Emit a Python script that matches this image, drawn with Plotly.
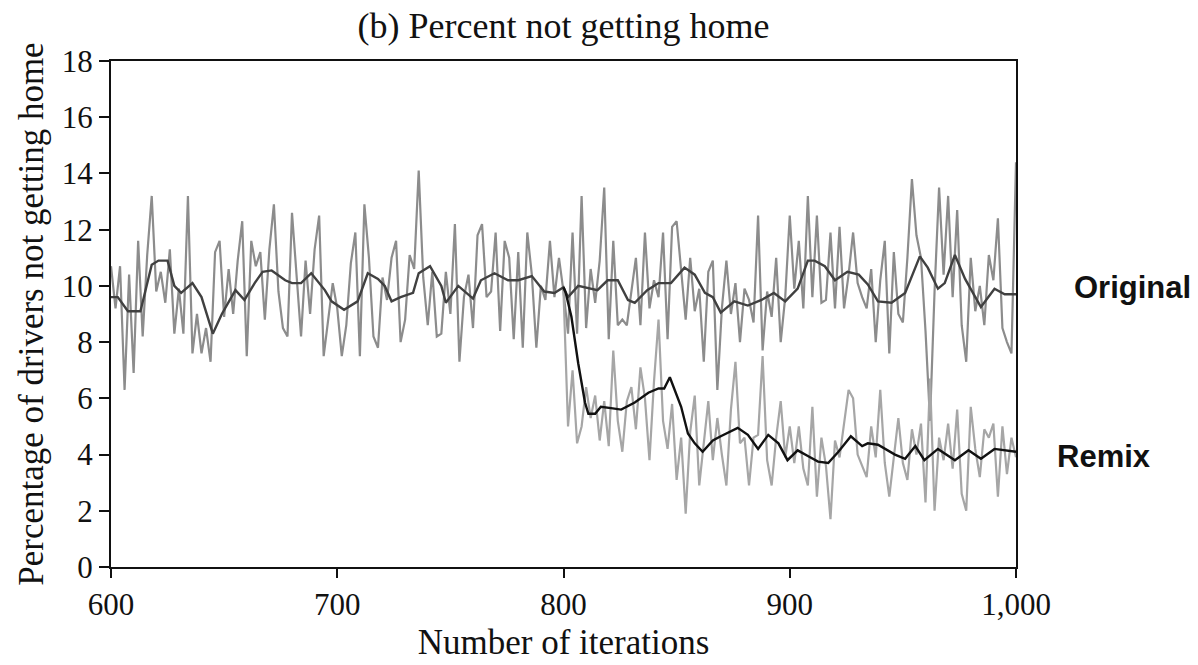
import plotly.graph_objects as go

# ---------------- data ----------------
# Noisy series, one value every 2 iterations
orig_noisy = [
    10.7, 9.2, 10.7, 6.3, 10.4, 6.9, 11.6, 8.2, 11.1, 13.2, 9.8, 10.5, 9.4, 11.3, 8.3, 9.9, 8.3,
    13.2, 7.6, 9.0, 7.6, 8.5, 7.3, 11.2, 11.6, 8.9, 10.6, 9.0, 10.9, 12.3, 7.5, 11.6, 10.7, 11.2,
    8.8, 11.3, 12.9, 9.8, 8.5, 8.2, 12.6, 10.5, 8.2, 10.9, 9.0, 11.3, 12.5, 7.5, 8.8, 10.1, 9.2,
    7.5, 8.6, 10.8, 11.9, 7.5, 12.9, 11.0, 8.2, 7.8, 10.3, 9.5, 11.0, 11.6, 8.0, 8.8, 11.1,
    10.6, 14.1, 10.3, 8.6, 10.5, 8.2, 8.3, 10.5, 9.0, 12.2, 7.3, 9.6, 10.4, 8.5, 11.8, 12.2, 9.6,
    9.8, 11.9, 8.4, 11.6, 11.0, 8.1, 11.2, 7.8, 11.9, 10.4, 7.8, 10.0, 9.5, 11.6, 9.6, 11.0, 9.8,
    8.3, 11.9, 8.3, 13.2, 8.5, 10.6, 9.4, 10.9, 13.5, 8.1, 11.6, 8.6, 8.8, 8.6, 9.9, 11.0, 8.6,
    11.9, 9.2, 10.2, 9.6, 11.9, 8.1, 12.1, 12.3, 10.4, 8.8, 11.0, 9.1, 9.9, 7.3, 10.5, 10.9,
    6.3, 9.2, 10.9, 9.0, 10.1, 8.0, 9.9, 9.5, 8.7, 12.5, 7.7, 9.8, 8.9, 11.0, 8.0, 9.6, 12.5,
    9.9, 11.6, 9.2, 13.2, 9.6, 12.5, 9.4, 9.5, 11.9, 9.2, 12.1, 9.2, 10.4, 11.9, 10.1, 9.6,
    9.2, 10.6, 8.0, 10.2, 11.6, 7.6, 11.2, 9.0, 8.7, 11.0, 13.8, 11.8, 11.0, 8.4, 5.2, 9.8, 13.5,
    10.4, 13.2, 9.6, 12.7, 8.6, 7.3, 11.0, 9.1, 10.0, 8.6, 11.1, 10.2, 12.4, 8.5, 8.0, 7.6, 14.4,
]
orig_noisy_start = 600

remix_noisy = [
    9.8, 5.0, 7.0, 4.4, 5.0, 6.4, 5.3, 6.1, 4.5, 5.9, 4.3, 7.7, 5.2, 4.1, 5.9, 6.4, 4.9, 7.1,
    6.0, 3.8, 6.6, 8.8, 5.2, 4.2, 5.8, 3.1, 4.6, 1.9, 4.8, 6.1, 2.9, 4.4, 5.9, 3.8,
    5.3, 4.0, 2.9, 5.6, 7.3, 4.4, 4.6, 2.9, 4.6, 4.7, 7.5, 3.8, 2.9, 4.6, 5.9, 3.9, 5.0,
    3.7, 5.0, 3.5, 2.9, 5.7, 2.5, 4.6, 3.6, 1.7, 4.5, 3.9, 5.2, 6.3, 6.0, 4.0, 3.6,
    3.2, 5.0, 3.9, 6.3, 3.7, 2.5, 4.0, 5.3, 3.7, 3.1, 4.9, 4.0, 5.1, 2.3, 6.7, 2.0, 4.6,
    3.8, 5.1, 3.5, 5.6, 2.6, 2.0, 5.7, 4.2, 3.2, 4.9, 4.6, 5.1, 2.5, 5.0, 3.3, 4.6, 3.9,
]
remix_noisy_start = 800
noisy_step = 2

# Smoothed (moving-average) curves
orig_smooth_x = [600, 603, 607.5, 613, 618, 621, 625, 628, 631, 636, 640, 645, 649, 655, 659,
                 663.5, 667, 671, 677, 680, 684, 688.5, 694.5, 697.5, 703, 709, 713.5, 718,
                 721, 724, 728, 733.5, 736, 741, 746, 748, 753.5, 760, 763.5, 769.5, 775.5,
                 780, 786, 791.5, 796, 800, 802, 806.5, 815, 819.5, 824, 828.5, 831.5, 837,
                 842, 847.5, 853.5, 858, 862.5, 866, 869.5, 875.5, 881.5, 887.5, 893, 898,
                 903.5, 908, 911, 915.5, 920, 925.5, 930.5, 934.5, 939, 945, 951, 957.5, 961,
                 965.5, 968.5, 973, 977.5, 984.5, 990.5, 995, 1000]
orig_smooth_y = [9.6, 9.6, 9.1, 9.1, 10.75, 10.9, 10.9, 10.0, 9.75, 10.1, 9.6, 8.3, 9.0, 9.85,
                 9.5, 10.1, 10.5, 10.55, 10.2, 10.1, 10.1, 10.45, 9.85, 9.45, 9.15, 9.45, 10.45,
                 10.25, 10.0, 9.45, 9.6, 9.75, 10.45, 10.7, 10.0, 9.4, 10.0, 9.55, 10.2, 10.45,
                 10.2, 10.2, 10.35, 9.8, 9.75, 9.95, 9.6, 10.0, 9.85, 10.2, 10.2, 9.5, 9.4,
                 9.85, 10.1, 10.1, 10.65, 10.4, 9.75, 9.6, 9.05, 9.45, 9.3, 9.5, 9.75, 9.45,
                 9.9, 10.9, 10.9, 10.7, 10.2, 10.5, 10.4, 10.05, 9.45, 9.4, 9.75, 11.05, 10.65,
                 9.9, 10.1, 11.1, 10.25, 9.25, 9.9, 9.7, 9.7]

remix_smooth_x = [800, 801, 803.5, 806.5, 809.5, 811, 814, 816.5, 821, 825.5, 831.5, 837.5,
                  842, 844.5, 847, 849, 852, 855, 858, 861.5, 866, 869.5, 877, 881.5, 886,
                  890.5, 895, 899, 903.5, 908, 912.5, 917, 921.5, 927, 932, 934.5, 939, 946.5,
                  951, 955.5, 959.5, 965.5, 973, 979, 984.5, 990.5, 1000]
remix_smooth_y = [9.95, 9.75, 8.9, 7.25, 5.85, 5.45, 5.45, 5.7, 5.65, 5.6, 5.85, 6.2, 6.35,
                  6.35, 6.75, 6.3, 5.7, 4.75, 4.4, 4.1, 4.5, 4.65, 4.95, 4.7, 4.2, 4.7, 4.4,
                  3.8, 4.15, 3.95, 3.75, 3.7, 4.1, 4.65, 4.3, 4.4, 4.35, 4.0, 3.85, 4.3, 3.8,
                  4.2, 3.8, 4.15, 3.85, 4.2, 4.1]

x_ticks = [600, 700, 800, 900, 1000]
x_tick_labels = ["600", "700", "800", "900", "1,000"]
y_ticks = [0, 2, 4, 6, 8, 10, 12, 14, 16, 18]
series_labels = ["Original", "Remix"]
label_values = [10.0, 4.0]

# ---------------- figure ----------------
orig_x = [orig_noisy_start + noisy_step * i for i in range(len(orig_noisy))]
remix_x = [remix_noisy_start + noisy_step * i for i in range(len(remix_noisy))]

fig = go.Figure()
fig.add_trace(go.Scatter(x=orig_x, y=orig_noisy, mode="lines",
                         line=dict(color="#8c8c8c", width=2.2), showlegend=False, hoverinfo="skip"))
fig.add_trace(go.Scatter(x=remix_x, y=remix_noisy, mode="lines",
                         line=dict(color="#a6a6a6", width=2.2), showlegend=False, hoverinfo="skip"))
fig.add_trace(go.Scatter(x=orig_smooth_x, y=orig_smooth_y, mode="lines",
                         line=dict(color="#404040", width=2.4), showlegend=False))
fig.add_trace(go.Scatter(x=remix_smooth_x, y=remix_smooth_y, mode="lines",
                         line=dict(color="#111111", width=2.4), showlegend=False))

serif = "Liberation Serif, Times New Roman, serif"
fig.update_layout(
    width=1198, height=665,
    margin=dict(l=111, r=182, t=61, b=98),
    paper_bgcolor="white", plot_bgcolor="white",
    title=dict(text="(b) Percent not getting home", x=0.5, xanchor="center",
               xref="paper", y=0.962, yanchor="middle",
               font=dict(family=serif, size=36, color="#111")),
    font=dict(family=serif, color="#111"),
)
fig.update_xaxes(range=[600, 1000], tickvals=x_ticks, ticktext=x_tick_labels,
                 automargin=False,
                 showgrid=False, zeroline=False, showline=True, linecolor="#111",
                 linewidth=2, mirror=True, ticks="outside", ticklen=9, tickwidth=1.5,
                 tickcolor="#111", tickfont=dict(family=serif, size=31),
                 title=dict(text="Number of iterations", font=dict(family=serif, size=35),
                            standoff=8))
fig.update_yaxes(range=[0, 18], tickvals=y_ticks,
                 automargin=False,
                 showgrid=False, zeroline=False, showline=True, linecolor="#111",
                 linewidth=2, mirror=True, ticks="outside", ticklen=10, tickwidth=1.5,
                 tickcolor="#111", tickfont=dict(family=serif, size=31),
                 title=dict(text="Percentage of drivers not getting home",
                            font=dict(family=serif, size=35), standoff=8))

for name, val, xoff in zip(series_labels, label_values, [116, 88]):
    fig.add_annotation(x=1000, y=val, xref="x", yref="y", text="<b>%s</b>" % name,
                       showarrow=False, xanchor="center", xshift=xoff, yshift=-2,
                       font=dict(family="Liberation Sans, Arial, sans-serif", size=31,
                                 color="#111"))

fig.write_html("out.html")
